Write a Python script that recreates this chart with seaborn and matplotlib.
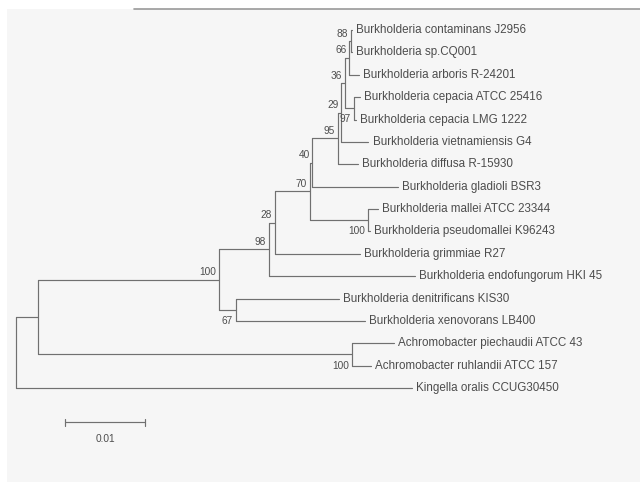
import matplotlib
matplotlib.use("Agg")
import matplotlib.pyplot as plt
from matplotlib.patches import Rectangle
from matplotlib.lines import Line2D
import pandas as pd
import seaborn as sns

# tree edges: parent, child, branch length (substitutions/site)
parent = ["root", "root",
          "A", "A",
          "Q", "Q",
          "B", "B",
          "P", "P",
          "C", "C",
          "D", "D",
          "E", "E",
          "G", "G",
          "F", "F",
          "H", "H",
          "N", "N",
          "L", "L",
          "K", "K",
          "J", "J",
          "M", "M"]
child = ["A", "Kingella oralis CCUG30450",
         "B", "Q",
         "Achromobacter piechaudii ATCC 43", "Achromobacter ruhlandii ATCC 157",
         "C", "P",
         "Burkholderia denitrificans KIS30", "Burkholderia xenovorans LB400",
         "D", "Burkholderia endofungorum HKI 45",
         "E", "Burkholderia grimmiae R27",
         "F", "G",
         "Burkholderia mallei ATCC 23344", "Burkholderia pseudomallei K96243",
         "H", "Burkholderia gladioli BSR3",
         "N", "Burkholderia diffusa R-15930",
         "L", "Burkholderia vietnamiensis G4",
         "K", "M",
         "J", "Burkholderia arboris R-24201",
         "Burkholderia contaminans J2956", "Burkholderia sp.CQ001",
         "Burkholderia cepacia ATCC 25416", "Burkholderia cepacia LMG 1222"]
branch_len = [0.00275, 0.0495,
              0.022625, 0.03925,
              0.00525, 0.002375,
              0.00625, 0.002125,
              0.012875, 0.016125,
              0.00075, 0.01825,
              0.004375, 0.010625,
              0.0003, 0.00725,
              0.00125, 0.0002,
              0.0032, 0.0107,
              0.0004, 0.0025,
              0.0005, 0.0034,
              0.0005, 0.0011,
              0.00025, 0.00125,
              0.00013, 0.00013,
              0.00075, 0.0002]

# bootstrap support
support_node = ["J", "K", "L", "N", "M", "H", "F", "E", "D", "C", "B", "G", "P", "Q"]
support_value = [88, 66, 36, 29, 97, 95, 40, 70, 28, 98, 100, 100, 67, 100]
support_below = ["M", "G", "P", "Q"]

scale_len = 0.01

# ---- layout ----
kids = {}
blen = {}
for p, c, b in zip(parent, child, branch_len):
    kids.setdefault(p, []).append(c)
    blen[c] = b

xpos = {"root": 0.0}
ypos = {}
leaf_order = []

def place(node):
    for c in kids.get(node, []):
        xpos[c] = xpos[node] + blen[c]
        place(c)
    if node in kids:
        ypos[node] = (ypos[kids[node][0]] + ypos[kids[node][-1]]) / 2
    else:
        ypos[node] = len(leaf_order)
        leaf_order.append(node)

place("root")

rows = []
seg = 0
for node, cs in kids.items():
    rows.append((seg, xpos[node], ypos[cs[0]]))
    rows.append((seg, xpos[node], ypos[cs[-1]]))
    seg += 1
    for c in cs:
        rows.append((seg, xpos[node], ypos[c]))
        rows.append((seg, xpos[c], ypos[c]))
        seg += 1
df = pd.DataFrame(rows, columns=["seg", "x", "y"])

# ---- drawing ----
sns.set_theme(style="white")
plt.rcParams["font.family"] = ["Liberation Sans", "DejaVu Sans"]

W, H = 640, 484
fig = plt.figure(figsize=(W / 100, H / 100), dpi=100)
fig.patch.set_facecolor("white")

ax = fig.add_axes([0, 0, 1, 1])
ax.patch.set_alpha(0)
ax.add_patch(Rectangle((7 / W, 2 / H), 633 / W, 473 / H,
                       transform=fig.transFigure, facecolor="#f6f6f6",
                       edgecolor="none", zorder=-10, clip_on=False))
ax.add_line(Line2D([134 / W, 1.0], [1 - 9 / H, 1 - 9 / H],
                   transform=fig.transFigure, color="#999999", lw=1.2,
                   clip_on=False))

line_col = "#707070"
sns.lineplot(data=df, x="x", y="y", units="seg", estimator=None, sort=False,
             color=line_col, lw=0.85, ax=ax, legend=False)

px = 1 / 8000.0  # data units per pixel horizontally
ax.set_xlim(-16 * px, (W - 16) * px)
row_h = 22.375
ax.set_ylim((H - 30) / row_h, -30 / row_h)
ax.set_axis_off()

txt_col = "#4d4d4d"
for leaf in leaf_order:
    ax.annotate(leaf, (xpos[leaf], ypos[leaf]), xytext=(3, 0),
                textcoords="offset points", ha="left", va="center",
                fontsize=8.35, color=txt_col)

for n, v in zip(support_node, support_value):
    dy = -8 if n in support_below else 5.5
    ax.annotate(str(v), (xpos[n], ypos[n]), xytext=(-2.0, dy),
                textcoords="offset points", ha="right", va="center",
                fontsize=7.3, color=txt_col)

# scale bar
sb_x = 49 * px
sb_y = (422 - 30) / row_h
tick = 3.5 / row_h
ax.plot([sb_x, sb_x + scale_len], [sb_y, sb_y], color=line_col, lw=0.85)
ax.plot([sb_x, sb_x], [sb_y - tick, sb_y + tick], color=line_col, lw=0.85)
ax.plot([sb_x + scale_len, sb_x + scale_len], [sb_y - tick, sb_y + tick],
        color=line_col, lw=0.85)
ax.text(sb_x + scale_len / 2, (439 - 30) / row_h, "0.01", ha="center",
        va="center", fontsize=7.3, color=txt_col)

fig.savefig("out.png", dpi=100)
